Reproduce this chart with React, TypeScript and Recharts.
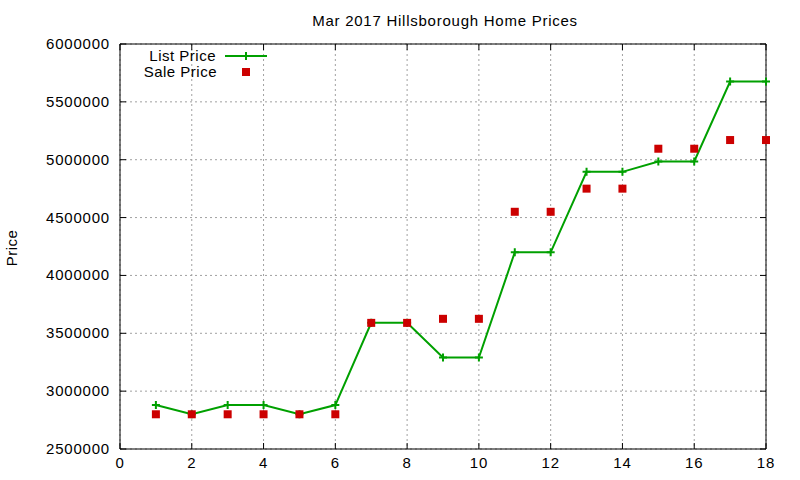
import { CartesianGrid, ComposedChart, Line, ReferenceArea, Scatter, XAxis, YAxis } from 'recharts'

// Hillsborough monthly listing vs. sale prices (item index on the x axis)
const ITEMS = [1, 2, 3, 4, 5, 6, 7, 8, 9, 10, 11, 12, 13, 14, 15, 16, 17, 18]
const LIST_PRICE = [
	2880000, 2800000, 2880000, 2880000, 2800000, 2880000, 3590000, 3590000, 3290000,
	3290000, 4200000, 4200000, 4895000, 4895000, 4985000, 4985000, 5675000, 5675000
]
const SALE_PRICE = [
	2800000, 2800000, 2800000, 2800000, 2800000, 2800000, 3590000, 3590000, 3625000,
	3625000, 4550000, 4550000, 4750000, 4750000, 5095000, 5095000, 5170000, 5170000
]
const X_TICKS = [0, 2, 4, 6, 8, 10, 12, 14, 16, 18]
const Y_TICKS = [2500000, 3000000, 3500000, 4000000, 4500000, 5000000, 5500000, 6000000]

const FONT = '"Liberation Sans", Arial, sans-serif'
const GREEN = '#00a000'
const RED = '#cc0000'
// plot box edges, kept in sync with the chart margins below
const PLOT = { left: 120, right: 766, top: 44, bottom: 449 }

const rows = ITEMS.map((x, i) => ({ x, list: LIST_PRICE[i], sale: SALE_PRICE[i] }))

function XTick({ x, payload }: any) {
	return (
		<g>
			<line x1={x} x2={x} y1={PLOT.bottom} y2={PLOT.bottom - 6} stroke="#000" />
			<line x1={x} x2={x} y1={PLOT.top} y2={PLOT.top + 6} stroke="#000" />
			<text x={x} y={468} textAnchor="middle" fontSize={15} letterSpacing={0.8} fill="#000" fontFamily={FONT}>
				{payload.value}
			</text>
		</g>
	)
}

function YTick({ y, payload }: any) {
	return (
		<g>
			<line x1={PLOT.left} x2={PLOT.left + 6} y1={y} y2={y} stroke="#000" />
			<line x1={PLOT.right} x2={PLOT.right - 6} y1={y} y2={y} stroke="#000" />
			<text x={110} y={y + 5} textAnchor="end" fontSize={15} letterSpacing={0.8} fill="#000" fontFamily={FONT}>
				{payload.value}
			</text>
		</g>
	)
}

function PlusDot({ cx, cy, index }: any) {
	return (
		<path
			key={`p-${index}`}
			d={`M${cx - 4},${cy}H${cx + 4}M${cx},${cy - 4}V${cy + 4}`}
			stroke={GREEN}
			strokeWidth={2}
			fill="none"
		/>
	)
}

function Square({ cx, cy }: any) {
	return <rect x={cx - 4} y={cy - 4} width={8} height={8} fill={RED} />
}

export default function App() {
	return (
		<div style={{ position: 'absolute', left: 0, top: 0, width: 800, height: 480, background: '#fff', fontFamily: FONT }}>
			<ComposedChart
				width={800}
				height={480}
				data={rows}
				margin={{ top: PLOT.top, right: 800 - PLOT.right, bottom: 0, left: 0 }}
			>
				<CartesianGrid stroke="#a0a0a0" strokeDasharray="2 3" />
				<XAxis
					dataKey="x"
					type="number"
					domain={[0, 18]}
					ticks={X_TICKS}
					height={480 - PLOT.bottom}
					axisLine={false}
					tickLine={false}
					tick={<XTick />}
				/>
				<YAxis
					type="number"
					domain={[2500000, 6000000]}
					ticks={Y_TICKS}
					width={PLOT.left}
					axisLine={false}
					tickLine={false}
					tick={<YTick />}
				/>
				<ReferenceArea x1={0} x2={18} y1={2500000} y2={6000000} fill="none" stroke="#000" strokeWidth={1} ifOverflow="visible" />
				<Line dataKey="list" stroke={GREEN} strokeWidth={2} dot={PlusDot} activeDot={false} isAnimationActive={false} />
				<Scatter dataKey="sale" fill={RED} shape={<Square />} isAnimationActive={false} />
			</ComposedChart>
			<svg width={800} height={480} style={{ position: 'absolute', left: 0, top: 0, pointerEvents: 'none' }}>
				<text x={445} y={26} textAnchor="middle" fontSize={15} letterSpacing={0.75} fontFamily={FONT}>
					Mar 2017 Hillsborough Home Prices
				</text>
				<text x={17} y={248} transform="rotate(-90 17 248)" textAnchor="middle" fontSize={15} letterSpacing={0.5} fontFamily={FONT}>
					Price
				</text>
				<text x={216} y={61} textAnchor="end" fontSize={15} letterSpacing={0.5} fontFamily={FONT}>
					List Price
				</text>
				<line x1={225} x2={267} y1={56} y2={56} stroke={GREEN} strokeWidth={2} />
				<path d="M242,56H250M246,52V60" stroke={GREEN} strokeWidth={2} />
				<text x={217} y={77} textAnchor="end" fontSize={15} letterSpacing={0.5} fontFamily={FONT}>
					Sale Price
				</text>
				<rect x={242} y={68} width={8} height={8} fill={RED} />
			</svg>
		</div>
	)
}
